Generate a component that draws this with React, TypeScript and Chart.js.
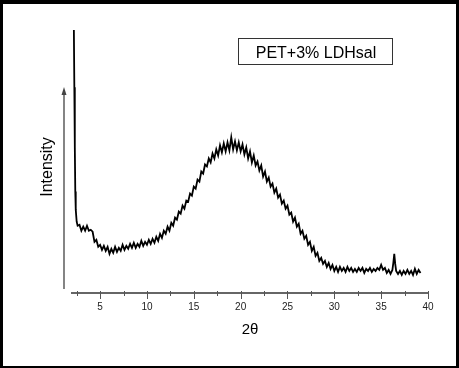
import React, { useEffect, useRef } from "react";
import { Chart, registerables } from "chart.js";

Chart.register(...registerables);

// ---- data (2θ in degrees, intensity in arbitrary counts) ----
const twoTheta = [
  2.2, 2.25, 2.3, 2.35, 2.4, 2.5, 2.6, 2.8,
  3.0, 3.2, 3.4, 3.6, 3.8,
  4.0, 4.2, 4.4, 4.6, 4.8,
  5.0, 5.2, 5.4, 5.6, 5.8,
  6.0, 6.2, 6.4, 6.6, 6.8,
  7.0, 7.2, 7.4, 7.6, 7.8,
  8.0, 8.2, 8.4, 8.6, 8.8,
  9.0, 9.2, 9.4, 9.6, 9.8,
  10.0, 10.2, 10.4, 10.6, 10.8,
  11.0, 11.2, 11.4, 11.6, 11.8,
  12.0, 12.2, 12.4, 12.6, 12.8,
  13.0, 13.2, 13.4, 13.6, 13.8,
  14.0, 14.2, 14.4, 14.6, 14.8,
  15.0, 15.2, 15.4, 15.6, 15.8,
  16.0, 16.2, 16.4, 16.6, 16.8,
  17.0, 17.2, 17.4, 17.6, 17.8,
  18.0, 18.2, 18.4, 18.6, 18.8,
  19.0, 19.2, 19.4, 19.6, 19.8,
  20.0, 20.2, 20.4, 20.6, 20.8,
  21.0, 21.2, 21.4, 21.6, 21.8,
  22.0, 22.2, 22.4, 22.6, 22.8,
  23.0, 23.2, 23.4, 23.6, 23.8,
  24.0, 24.2, 24.4, 24.6, 24.8,
  25.0, 25.2, 25.4, 25.6, 25.8,
  26.0, 26.2, 26.4, 26.6, 26.8,
  27.0, 27.2, 27.4, 27.6, 27.8,
  28.0, 28.2, 28.4, 28.6, 28.8,
  29.0, 29.2, 29.4, 29.6, 29.8,
  30.0, 30.2, 30.4, 30.6, 30.8,
  31.0, 31.2, 31.4, 31.6, 31.8,
  32.0, 32.2, 32.4, 32.6, 32.8,
  33.0, 33.2, 33.4, 33.6, 33.8,
  34.0, 34.2, 34.4, 34.6, 34.8,
  35.0, 35.2, 35.4, 35.6, 35.8,
  36.0, 36.2, 36.3, 36.4, 36.5, 36.6, 36.8,
  37.0, 37.2, 37.4, 37.6, 37.8,
  38.0, 38.2, 38.4, 38.6, 38.8,
  39.0, 39.2,
];

const intensity = [
  262, 205, 146, 101, 83, 71, 67, 68,
  62, 66, 62, 67, 62,
  63, 61, 51, 53, 46,
  48, 43, 47, 42, 46,
  39, 44, 40, 46, 41,
  45, 42, 48, 43, 47,
  44, 49, 45, 50, 45,
  49, 46, 52, 47, 51,
  48, 53, 49, 54, 50,
  56, 52, 59, 55, 62,
  59, 66, 62, 70, 67,
  75, 73, 81, 79, 87,
  84, 92, 91, 99, 97,
  106, 104, 113, 111, 121,
  119, 128, 126, 134, 130,
  139, 134, 143, 137, 147,
  140, 149, 141, 150, 142,
  155, 143, 151, 142, 150,
  141, 148, 138, 145, 134,
  141, 130, 137, 127, 131,
  122, 127, 116, 121, 111,
  115, 106, 109, 100, 104,
  95, 98, 89, 92, 84,
  87, 78, 80, 71, 75,
  66, 69, 59, 62, 54,
  57, 48, 51, 42, 46,
  37, 40, 32, 35, 29,
  32, 26, 30, 24, 28,
  22, 26, 21, 26, 22,
  25, 21, 26, 22, 25,
  21, 24, 21, 25, 22,
  25, 20, 24, 22, 25,
  21, 24, 22, 25, 23,
  28, 23, 25, 20, 23,
  19, 23, 30, 39, 29, 22, 19,
  22, 18, 22, 19, 23,
  19, 22, 18, 24, 19,
  23, 20,
];

const xTickValues = [2.5, 5, 7.5, 10, 12.5, 15, 17.5, 20, 22.5, 25, 27.5, 30, 32.5, 35, 37.5, 40];
const xLabelStep = 5;
const X_MIN = 2;
const X_MAX = 40;
const Y_MIN = 0;
const Y_MAX = 251;

const seriesLabel = "PET+3% LDHsal";
const xTitle = "2θ";
const yTitle = "Intensity";

const FONT = "'Liberation Sans', Arial, Helvetica, sans-serif";

const isMajor = (v: number) => Math.abs(v / xLabelStep - Math.round(v / xLabelStep)) < 1e-6;

const decorPlugin = {
  id: "decor",
  afterDraw(chart: any) {
    const { ctx, chartArea, scales } = chart;
    const xs = scales.x;
    ctx.save();
    // x tick marks (major longer, minor shorter)
    ctx.strokeStyle = "#555";
    ctx.lineWidth = 1;
    xs.ticks.forEach((t: any) => {
      const px = Math.round(xs.getPixelForValue(t.value)) + 0.5;
      const len = isMajor(t.value) ? 6 : 3;
      ctx.beginPath();
      ctx.moveTo(px, chartArea.bottom - 2);
      ctx.lineTo(px, chartArea.bottom + len);
      ctx.stroke();
    });
    // y arrow
    const ax = chartArea.left - 8;
    ctx.strokeStyle = "#666";
    ctx.fillStyle = "#444";
    ctx.lineWidth = 1.6;
    ctx.beginPath();
    ctx.moveTo(ax, chartArea.bottom - 4);
    ctx.lineTo(ax, 94);
    ctx.stroke();
    ctx.beginPath();
    ctx.moveTo(ax, 87);
    ctx.lineTo(ax - 2.5, 95);
    ctx.lineTo(ax + 2.5, 95);
    ctx.closePath();
    ctx.fill();
    // boxed series label
    ctx.strokeStyle = "#333";
    ctx.lineWidth = 1;
    ctx.strokeRect(238.5, 38.5, 154, 26);
    ctx.fillStyle = "#000";
    ctx.font = `16px ${FONT}`;
    ctx.textAlign = "center";
    ctx.textBaseline = "alphabetic";
    ctx.fillText(seriesLabel, 316, 57.5);
    ctx.restore();
  },
};

export default function App() {
  const canvasRef = useRef<HTMLCanvasElement | null>(null);

  useEffect(() => {
    const canvas = canvasRef.current;
    if (!canvas) return;
    Chart.defaults.font.family = FONT;
    const chart = new Chart(canvas, {
      type: "line",
      data: {
        datasets: [
          {
            label: seriesLabel,
            data: twoTheta.map((x, i) => ({ x, y: intensity[i] })),
            borderColor: "#000",
            borderWidth: 1.8,
            pointRadius: 0,
            tension: 0,
            fill: false,
            clip: false as any,
          },
        ],
      },
      options: {
        animation: false,
        responsive: false,
        layout: { padding: { left: 30, right: 31, top: 41, bottom: 29 } },
        plugins: { legend: { display: false }, tooltip: { enabled: false } },
        scales: {
          x: {
            type: "linear",
            min: X_MIN,
            max: X_MAX,
            afterBuildTicks: (scale: any) => {
              scale.ticks = xTickValues.map((v) => ({ value: v }));
            },
            ticks: {
              autoSkip: false,
              maxRotation: 0,
              padding: 8,
              color: "#222",
              font: { size: 10, family: FONT },
              callback: (value: any) => (isMajor(Number(value)) ? String(value) : ""),
            },
            grid: { display: false, drawTicks: false },
            border: { display: true, color: "#666", width: 2 },
            title: {
              display: true,
              text: xTitle,
              color: "#000",
              font: { size: 15, family: FONT },
              padding: { top: 0, bottom: 0 },
            },
          },
          y: {
            type: "linear",
            min: Y_MIN,
            max: Y_MAX,
            ticks: { display: false },
            grid: { display: false, drawTicks: false },
            border: { display: false },
            title: {
              display: true,
              text: yTitle,
              color: "#000",
              font: { size: 16, family: FONT },
              padding: { top: 8.4, bottom: 14.4 },
            },
          },
        },
      },
      plugins: [decorPlugin],
    });
    return () => chart.destroy();
  }, []);

  return (
    <div style={{ position: "fixed", left: 0, top: 0, width: 459, height: 368, background: "#fff" }}>
      <canvas ref={canvasRef} width={459} height={368} style={{ display: "block" }} />
      <div
        style={{
          position: "absolute",
          left: 0,
          top: 0,
          width: 459,
          height: 368,
          boxSizing: "border-box",
          borderTop: "4px solid #000",
          borderLeft: "3px solid #000",
          borderRight: "3px solid #000",
          borderBottom: "2px solid #000",
          pointerEvents: "none",
        }}
      />
    </div>
  );
}
